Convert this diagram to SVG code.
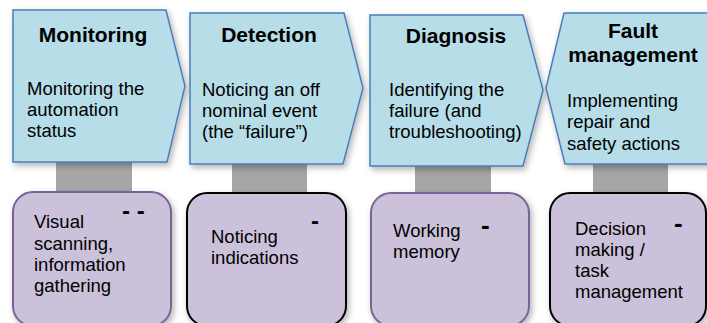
<svg xmlns="http://www.w3.org/2000/svg" width="707" height="323" viewBox="0 0 707 323">
<style>
.top{fill:#b7dde8;stroke:#4a7ebb;stroke-width:1.5;filter:url(#sh)}
.bot{fill:#ccc1da;stroke-width:2;filter:url(#sh)}
.pur{stroke:#7a6396}
.blk{stroke:#000}
.stem{fill:#a6a6a6}
text{font-family:"Liberation Sans",Arial,sans-serif;fill:#000}
.t{font-size:21px;font-weight:bold;text-anchor:middle}
.b{font-size:18.5px}
.d{font-size:24px;font-weight:bold}
</style>
<defs>
<filter id="sh" x="-10%" y="-10%" width="130%" height="130%">
<feDropShadow dx="2" dy="3" stdDeviation="3" flood-color="#000" flood-opacity="0.3"/>
</filter>
</defs>
<g id="connectors">
<rect class="stem" x="56" y="155" width="76" height="42"/>
<rect class="stem" x="232" y="155" width="75" height="42"/>
<rect class="stem" x="415" y="155" width="76" height="42"/>
<rect class="stem" x="593" y="155" width="75" height="42"/>
</g>
<g id="monitoring">
<polygon class="top" points="13,10 166,10 185,86 167,162 13,162"/>
<text class="t" x="93" y="42">Monitoring</text>
<text class="b" x="27" y="95">Monitoring the</text>
<text class="b" x="27" y="116">automation</text>
<text class="b" x="27" y="137">status</text>
</g>
<g id="detection">
<polygon class="top" points="190,13 344,13 363,88 343,164 190,164"/>
<text class="t" x="269" y="42">Detection</text>
<text class="b" x="202" y="96">Noticing an off</text>
<text class="b" x="202" y="117">nominal event</text>
<text class="b" x="202" y="138">(the “failure”)</text>
</g>
<g id="diagnosis">
<polygon class="top" points="370,15 523,15 543,90 523,166 370,166"/>
<text class="t" x="456" y="43">Diagnosis</text>
<text class="b" x="389" y="96">Identifying the</text>
<text class="b" x="389" y="117">failure (and</text>
<text class="b" x="389" y="138">troubleshooting)</text>
</g>
<g id="fault-management">
<polygon class="top" points="564,13 712,13 712,164 565,164 546,88"/>
<text class="t" x="633" y="38">Fault</text>
<text class="t" x="633" y="62">management</text>
<text class="b" x="567" y="107">Implementing</text>
<text class="b" x="567" y="128">repair and</text>
<text class="b" x="567" y="150">safety actions</text>
</g>
<g id="visual-scanning">
<rect class="bot pur" x="13" y="192" width="158" height="134" rx="20"/>
<text class="d" x="122" y="219">- -</text>
<text class="b" x="34" y="228">Visual</text>
<text class="b" x="34" y="250">scanning,</text>
<text class="b" x="34" y="271">information</text>
<text class="b" x="34" y="292">gathering</text>
</g>
<g id="noticing-indications">
<rect class="bot blk" x="187" y="193" width="159" height="133" rx="20"/>
<text class="d" x="311" y="229">-</text>
<text class="b" x="211" y="243">Noticing</text>
<text class="b" x="211" y="264">indications</text>
</g>
<g id="working-memory">
<rect class="bot pur" x="371" y="193" width="158" height="133" rx="20"/>
<text class="d" x="481" y="234" style="font-size:26px">-</text>
<text class="b" x="393" y="237">Working</text>
<text class="b" x="393" y="258">memory</text>
</g>
<g id="decision-making">
<rect class="bot blk" x="550" y="193" width="156" height="133" rx="20"/>
<text class="d" x="674" y="232" style="font-size:26px">-</text>
<text class="b" x="575" y="235">Decision</text>
<text class="b" x="575" y="256">making /</text>
<text class="b" x="575" y="277">task</text>
<text class="b" x="575" y="298">management</text>
</g>
</svg>
